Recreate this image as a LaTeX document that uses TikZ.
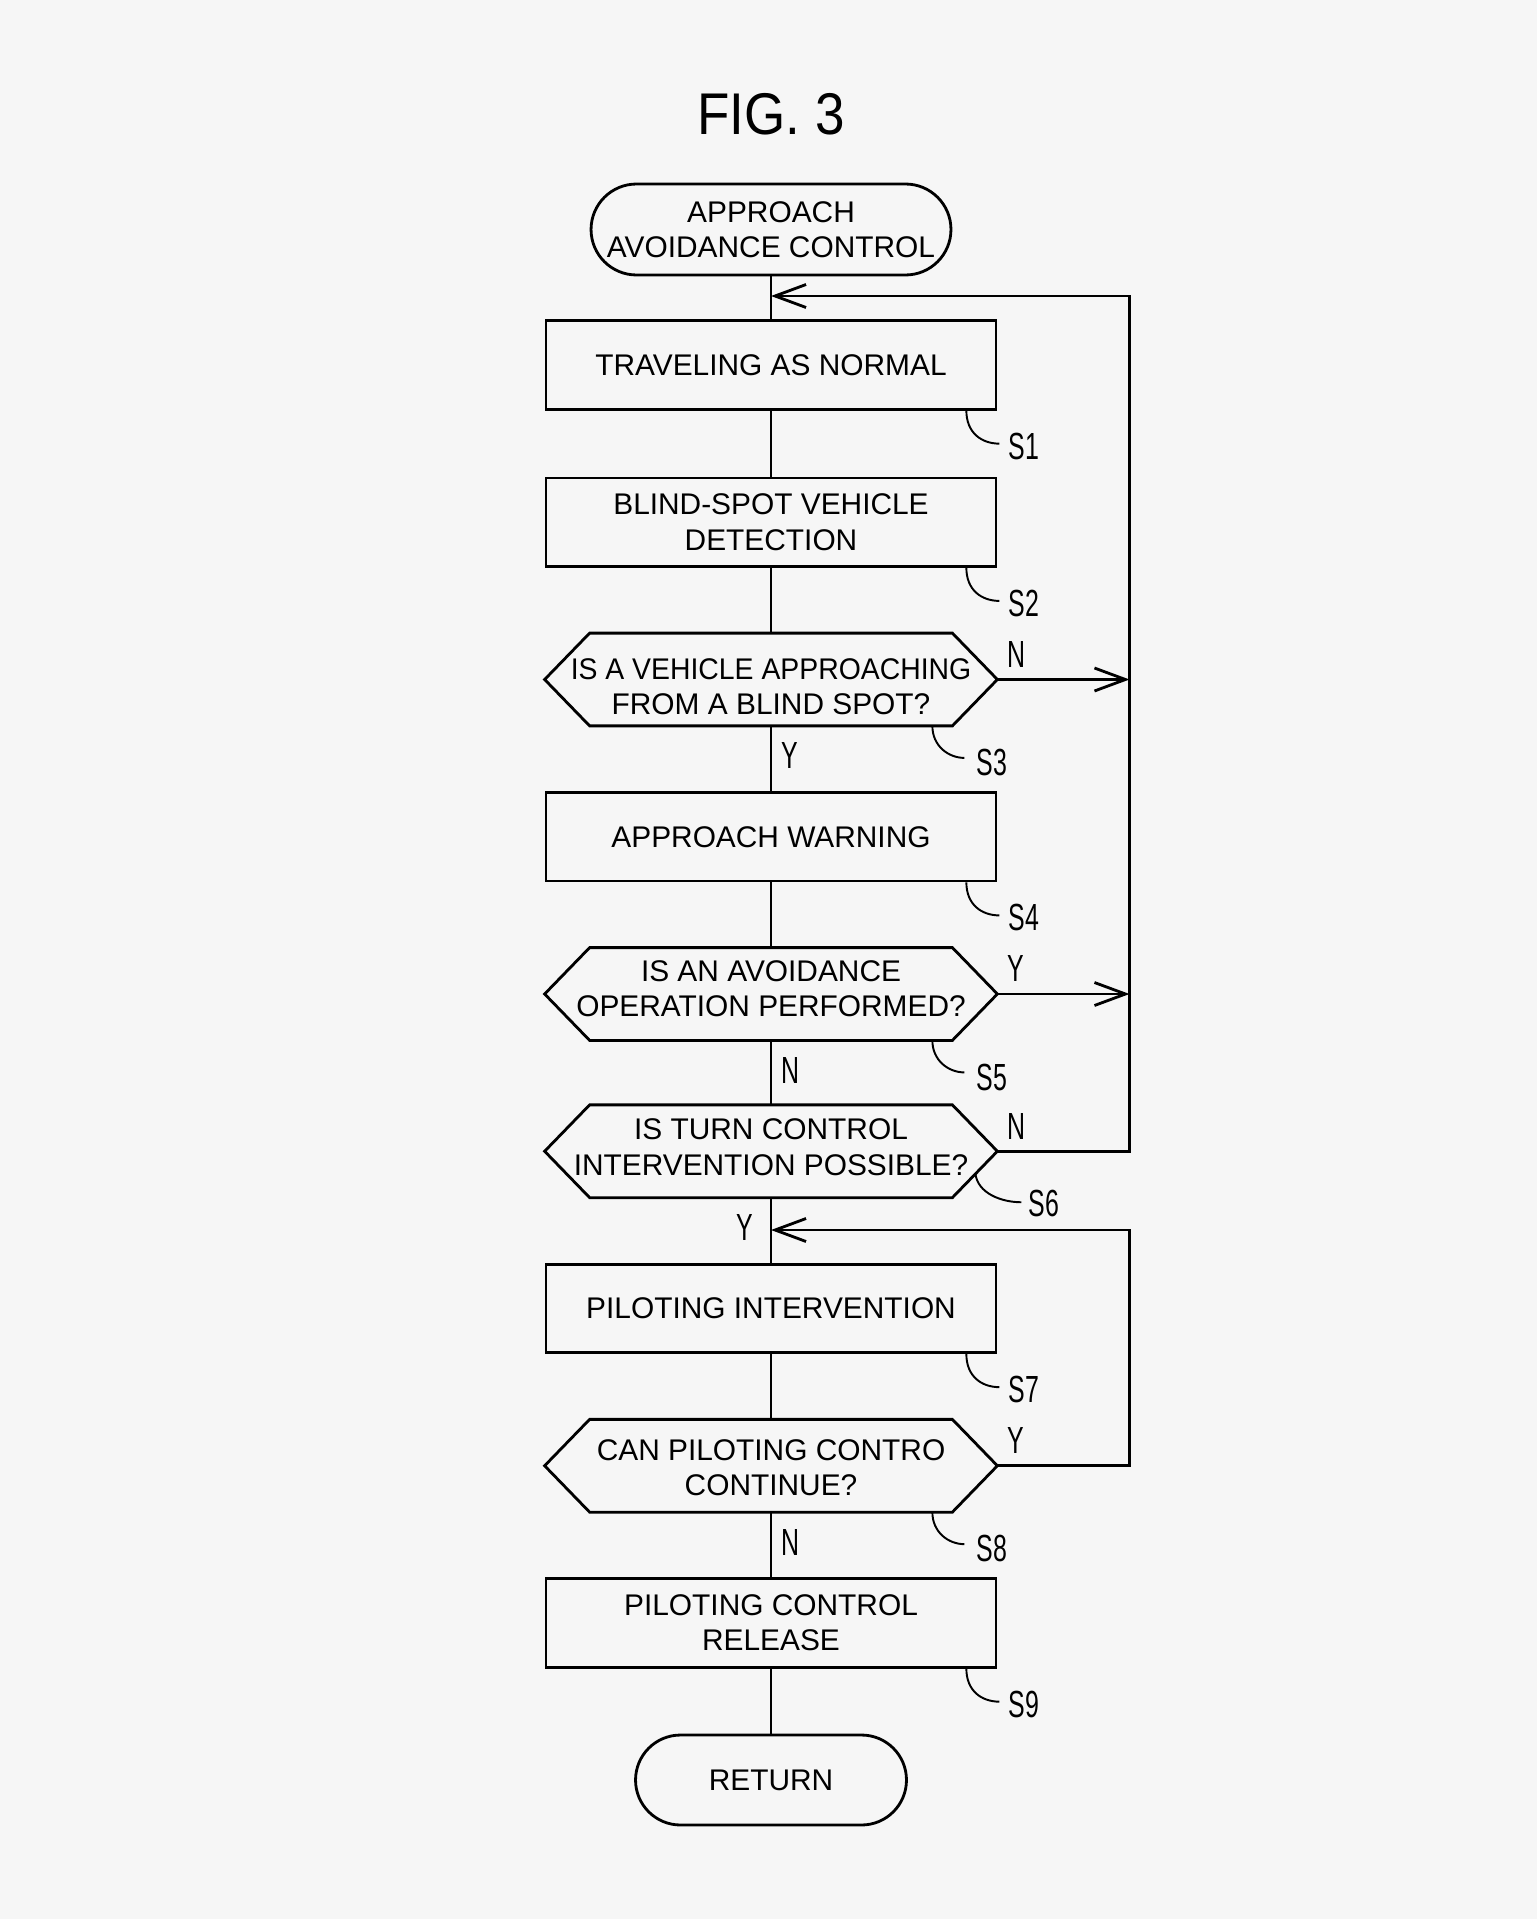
\documentclass[tikz,border=0pt]{standalone}
\usepackage{fontspec}
\setmainfont{Liberation Sans}
\usepackage{graphicx}
\usetikzlibrary{shapes.misc,arrows.meta,calc}
\definecolor{bgcol}{HTML}{F6F6F6}
\newcommand{\steplab}[1]{\scalebox{0.66}[1]{\fontsize{21.5}{24}\selectfont #1}}
\begin{document}
\begin{tikzpicture}[x=0.02cm,y=-0.02cm,
  line width=1.6pt,
  every node/.style={font=\fontsize{17}{20}\selectfont, align=center, inner sep=0pt},
  procbox/.style={draw, rectangle, minimum width=9cm, minimum height=1.77cm},
  decbox/.style={rectangle, minimum width=9cm, minimum height=1.8cm},
  term/.style={draw, rounded rectangle, rounded rectangle arc length=180, minimum height=1.82cm},
  lead/.style={line width=1.1pt},
  flow/.style={-{Straight Barb[length=0.62cm,width=0.46cm]}},
]
\fill[bgcol] (0,0) rectangle (1537,1919);
\useasboundingbox (0,0) rectangle (1537,1919);

\node (title) at (771,114) {\scalebox{0.9}[1]{\fontsize{33.5}{36}\selectfont FIG. 3}};

\node[term, minimum width=7.2cm] (start) at (771,229.5) {APPROACH\\AVOIDANCE CONTROL};
\node[procbox] (s1) at (771,365) {TRAVELING AS NORMAL};
\node[procbox] (s2) at (771,522.25) {BLIND-SPOT VEHICLE\\DETECTION};
\node[decbox] (s3) at (771,679.5) {};
\node[procbox] (s4) at (771,836.75) {APPROACH WARNING};
\node[decbox] (s5) at (771,994) {};
\node[decbox] (s6) at (771,1151.25) {};
\node[procbox] (s7) at (771,1308.5) {PILOTING INTERVENTION};
\node[decbox] (s8) at (771,1465.75) {};
\node[procbox] (s9) at (771,1623) {PILOTING CONTROL\\RELEASE};
\node[term, minimum width=5.42cm, minimum height=1.8cm] (ret) at (771,1780) {RETURN};

% texts of the decision nodes
\node (t3) at ($(s3)+(0,7)$) {\scalebox{0.95}[1]{IS A VEHICLE APPROACHING}\\FROM A BLIND SPOT?};
\node (t5) at ($(s5)+(0,-5)$) {IS AN AVOIDANCE\\OPERATION PERFORMED?};
\node (t6) at ($(s6)+(0,-4)$) {IS TURN CONTROL\\INTERVENTION POSSIBLE?};
\node (t8) at ($(s8)+(0,2)$) {CAN PILOTING CONTRO\\CONTINUE?};

% hexagon outlines of the decision nodes
\foreach \n in {s3,s5,s6,s8}
  \draw (\n.west) -- ($(\n.north west)+(45,0)$) -- ($(\n.north east)+(-45,0)$) -- (\n.east)
        -- ($(\n.south east)+(-45,0)$) -- ($(\n.south west)+(45,0)$) -- cycle;

% main flow
\draw (start.south) -- (s1.north);
\draw (s1.south) -- (s2.north);
\draw (s2.south) -- (s3.north);
\draw (s3.south) -- (s4.north);
\draw (s4.south) -- (s5.north);
\draw (s5.south) -- (s6.north);
\draw (s6.south) -- (s7.north);
\draw (s7.south) -- (s8.north);
\draw (s8.south) -- (s9.north);
\draw (s9.south) -- (ret.north);

% loops
\coordinate (rx) at (1129.5,0);
\coordinate (in1) at (771,296);
\coordinate (in7) at (771,1230);
\draw[flow] (s6.east) -- (s6.east -| rx) -- (in1 -| rx) -- (in1);
\draw[flow] (s3.east) -- (s3.east -| rx);
\draw[flow] (s5.east) -- (s5.east -| rx);
\draw[flow] (s8.east) -- (s8.east -| rx) -- (in7 -| rx) -- (in7);

% Y / N labels
\node (n3) at (1016,655) {\steplab{N}};
\node (y3) at (790,755) {\steplab{Y}};
\node (y5) at (1016,968) {\steplab{Y}};
\node (n5) at (790,1070) {\steplab{N}};
\node (n6) at (1016,1126) {\steplab{N}};
\node (y6) at (745,1227) {\steplab{Y}};
\node (y8) at (1016,1440) {\steplab{Y}};
\node (n8) at (790,1542) {\steplab{N}};

% step labels and leaders
\foreach \n/\c in {1/365,2/522.25,4/836.75,7/1308.5,9/1623} {
  \node (l\n) at (1024,\c+81) {\steplab{S\n}};
  \draw[lead] ($(s\n.south east)+(-31,0)$) .. controls +(0,22) and +(-18,0) .. ($(s\n.south east)+(2,33)$);
}
\foreach \n/\c in {3/679.5,5/994,8/1465.75} {
  \node (l\n) at (992,\c+83) {\steplab{S\n}};
  \draw[lead] ($(s\n.south east)+(-65,0)$) .. controls +(0,20) and +(-16,0) .. ($(s\n.south east)+(-33,32)$);
}
\node (l6) at (1044,1203) {\steplab{S6}};
\draw[lead] ($(s6.east)+(-22,22)$) .. controls +(2,20) and +(-20,0) .. ($(s6.east)+(24,51)$);
\end{tikzpicture}
\end{document}
